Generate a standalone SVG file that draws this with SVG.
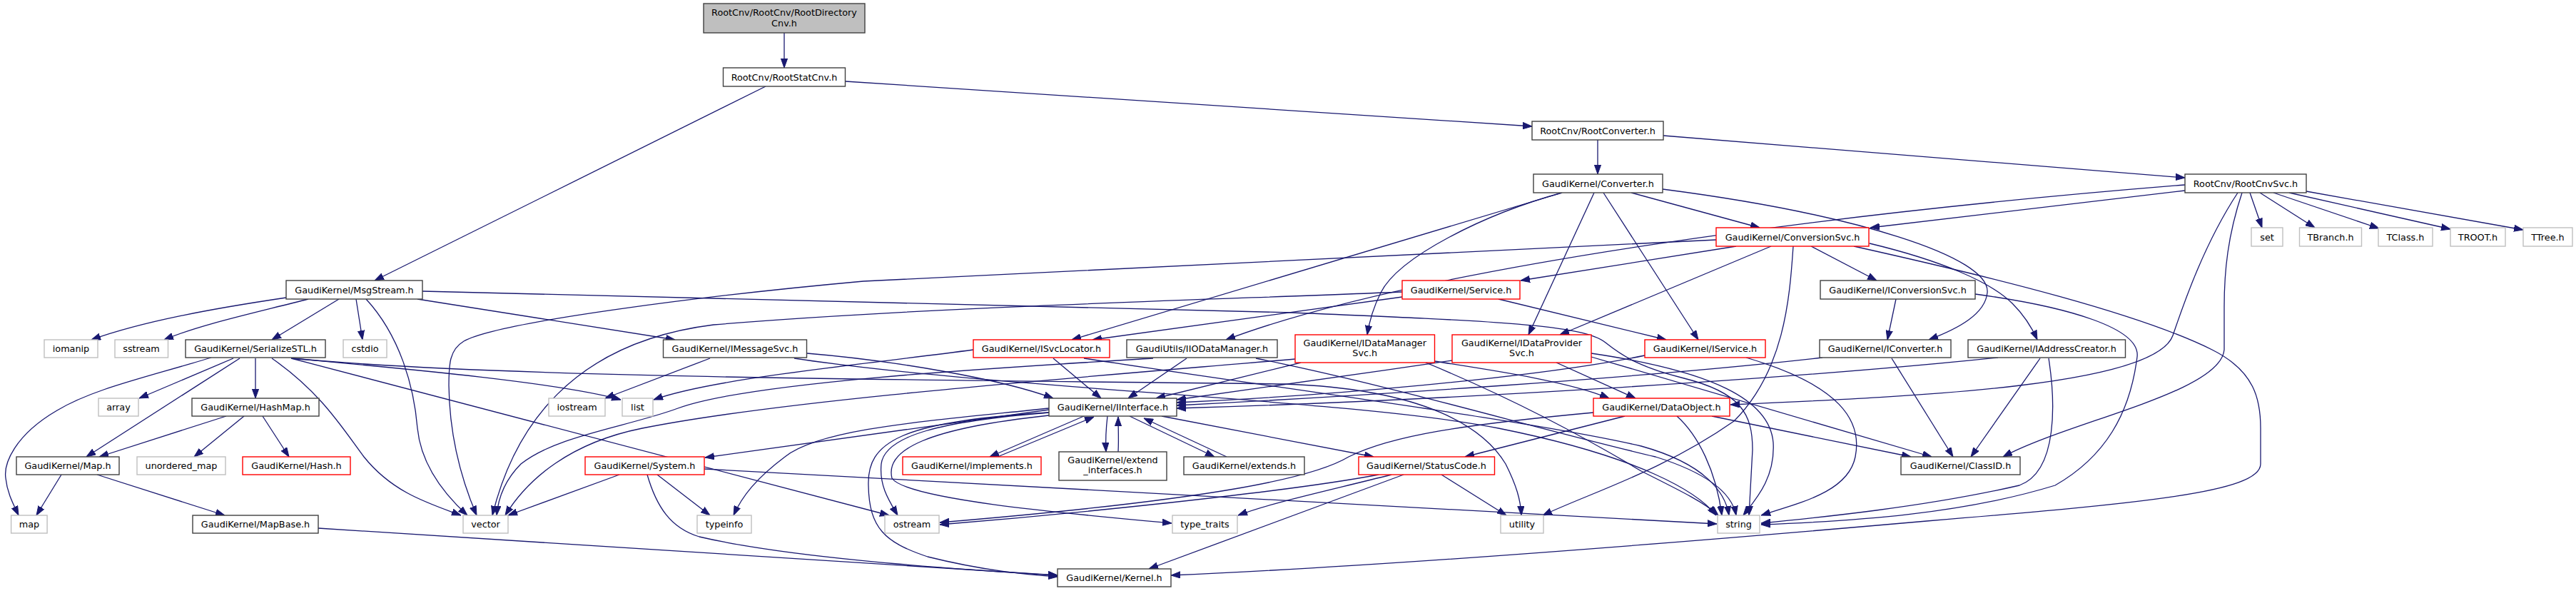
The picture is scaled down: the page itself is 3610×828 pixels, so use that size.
<svg xmlns="http://www.w3.org/2000/svg" width="3610" height="828" viewBox="0 0 3610 828">
<style>
.e{fill:none;stroke:#191970;stroke-width:1.3;marker-end:url(#a)}
.b rect{fill:#fff;stroke:#404040;stroke-width:1.4}
.r rect{fill:#fff;stroke:#ff0000;stroke-width:1.4}
.g rect{fill:#fff;stroke:#bfbfbf;stroke-width:1.4}
.root rect{fill:#bfbfbf;stroke:#404040;stroke-width:1.4}
text{font-family:"DejaVu Sans","Liberation Sans",sans-serif;font-size:12.8px;text-anchor:middle;fill:#000}
</style>
<defs>
<marker id="a" markerWidth="13" markerHeight="10" refX="13" refY="5" orient="auto" markerUnits="userSpaceOnUse"><path d="M0,0.4 L13,5 L0,9.6 z" fill="#191970" stroke="#191970" stroke-width="1"/></marker>
</defs>
<rect width="3610" height="828" fill="#fff"/>
<g id="edges">
<path class="e" d="M1099,46 L1099,95"/>
<path class="e" d="M1073,121 L525,393"/>
<path class="e" d="M1185,114 L2147,177"/>
<path class="e" d="M2239,196 L2239,244"/>
<path class="e" d="M2331,190 L3062,249"/>
<path class="e" d="M3153,270 L3170,319"/>
<path class="e" d="M3167,270 L3244,319"/>
<path class="e" d="M3186,270 L3334,320"/>
<path class="e" d="M3208,270 L3434,321"/>
<path class="e" d="M3232,268 L3536,322"/>
<path class="e" d="M3062,267 L2621,319"/>
<path class="e" d="M3062,259 C2600,296 2000,370 1718,476"/>
<path class="e" d="M3136,270 C3090,340 3062,420 3045,470 C3020,540 2700,555 2425,567"/>
<path class="e" d="M3142,270 C3122,330 3117,380 3117,430 L3117,490 C3112,550 2900,590 2807,640"/>
<path class="e" d="M2286,270 L2466,319"/>
<path class="e" d="M2330,265 C2600,300 2790,360 2785,410 C2782,440 2745,460 2703,476"/>
<path class="e" d="M2234,270 L2142,469"/>
<path class="e" d="M2247,270 L2380,476"/>
<path class="e" d="M2189,270 C2080,300 1960,360 1935,410 C1925,430 1919,450 1916,469"/>
<path class="e" d="M2189,270 L1502,476"/>
<path class="e" d="M2433,345 L2131,393"/>
<path class="e" d="M2482,345 L2186,469"/>
<path class="e" d="M2513,345 C2508,420 2500,520 2430,590 C2330,660 2230,690 2162,722"/>
<path class="e" d="M2538,345 L2630,393"/>
<path class="e" d="M2620,341 C2720,365 2790,395 2820,425 C2835,440 2848,460 2855,476"/>
<path class="e" d="M2598,345 C2800,390 3000,440 3100,490 C3160,520 3168,560 3168,600 L3168,650 C3168,690 3000,705 2700,730 C2300,765 1900,795 1641,806"/>
<path class="e" d="M2405,336 L1210,394 C1000,413 700,450 650,478 C630,490 629,510 629,540 C630,620 650,680 668,722"/>
<path class="e" d="M401,417 C300,432 200,450 128,476"/>
<path class="e" d="M432,419 C350,440 280,455 230,476"/>
<path class="e" d="M475,419 L381,476"/>
<path class="e" d="M499,419 L508,476"/>
<path class="e" d="M513,419 C560,470 580,540 585,600 C590,650 620,690 655,722"/>
<path class="e" d="M585,419 L946,476"/>
<path class="e" d="M592,408 L1810,438 C2100,450 2220,455 2250,480 C2275,500 2300,515 2360,530 C2440,550 2456,580 2456,630 L2451,722"/>
<path class="e" d="M296,501 C200,530 130,545 80,575 C20,610 5,650 8,670 C10,690 18,705 26,722"/>
<path class="e" d="M327,502 L195,558"/>
<path class="e" d="M336,502 L121,640"/>
<path class="e" d="M358,502 L358,558"/>
<path class="e" d="M381,502 C450,550 480,600 510,640 C550,690 600,705 646,722"/>
<path class="e" d="M408,502 C550,515 780,535 870,560"/>
<path class="e" d="M408,502 L1246,722"/>
<path class="e" d="M410,502 C700,530 1300,532 1800,538 C2000,545 2080,600 2110,650 C2125,680 2131,700 2132,722"/>
<path class="e" d="M317,583 L139,640"/>
<path class="e" d="M342,583 L272,640"/>
<path class="e" d="M368,583 L405,640"/>
<path class="e" d="M86,665 L51,722"/>
<path class="e" d="M136,665 L315,722"/>
<path class="e" d="M446,740 L1482,806"/>
<path class="e" d="M995,502 L848,558"/>
<path class="e" d="M1131,495 C1250,505 1400,530 1476,558"/>
<path class="e" d="M1113,502 C1400,545 1900,560 2100,600 C2300,640 2380,690 2405,722"/>
<path class="e" d="M1476,502 L1543,558"/>
<path class="e" d="M1364,490 C1200,512 1000,530 916,560"/>
<path class="e" d="M1519,502 C1800,545 2150,590 2300,625 C2390,650 2418,690 2423,722"/>
<path class="e" d="M1663,502 L1581,558"/>
<path class="e" d="M1616,502 C1400,515 1050,535 950,572 C880,598 780,610 730,650 C705,675 698,700 696,722"/>
<path class="e" d="M1760,502 C1950,540 2150,600 2320,640 C2400,665 2428,695 2433,722"/>
<path class="e" d="M1823,508 L1620,558"/>
<path class="e" d="M1815,503 C1500,530 1100,560 900,600 C800,620 740,670 708,722"/>
<path class="e" d="M2010,506 C2100,520 2200,535 2255,558"/>
<path class="e" d="M1998,508 C2100,550 2200,600 2300,660 C2360,690 2390,705 2408,722"/>
<path class="e" d="M2035,505 C1900,525 1750,545 1649,560"/>
<path class="e" d="M2181,508 L2292,558"/>
<path class="e" d="M2230,500 L2707,640"/>
<path class="e" d="M2230,495 C2400,520 2480,560 2485,620 C2488,670 2460,700 2443,722"/>
<path class="e" d="M2305,498 C2150,530 1850,555 1649,564"/>
<path class="e" d="M2447,501 C2580,540 2610,590 2600,640 C2590,690 2520,705 2468,722"/>
<path class="e" d="M2399,583 L2678,640"/>
<path class="e" d="M2277,583 L2053,640"/>
<path class="e" d="M2350,583 C2380,610 2405,660 2413,722"/>
<path class="e" d="M2233,578 C2050,595 1950,610 1890,640 C1840,670 1700,700 1317,732"/>
<path class="e" d="M1932,665 C1800,690 1500,720 1317,735"/>
<path class="e" d="M1950,665 C1850,690 1780,705 1735,722"/>
<path class="e" d="M1967,665 L1610,797"/>
<path class="e" d="M2020,665 L2111,722"/>
<path class="e" d="M868,665 L712,722"/>
<path class="e" d="M921,665 L995,722"/>
<path class="e" d="M987,657 L2406,734"/>
<path class="e" d="M907,665 C920,710 940,740 980,752 C1100,780 1300,795 1482,806"/>
<path class="e" d="M1470,574 L988,641"/>
<path class="e" d="M1470,572 C1300,590 1150,600 1100,640 C1060,670 1040,695 1028,722"/>
<path class="e" d="M1470,578 C1320,590 1240,610 1235,650 C1232,680 1245,700 1258,722"/>
<path class="e" d="M1470,578 C1260,590 1215,620 1217,680 C1218,740 1240,760 1300,780 C1380,800 1440,805 1482,808"/>
<path class="e" d="M1470,582 C1300,600 1240,630 1250,670 C1270,700 1500,720 1642,733"/>
<path class="e" d="M1628,583 L1925,640"/>
<path class="e" d="M1519,583 L1387,640"/>
<path class="e" d="M1398,640 L1533,584"/>
<path class="e" d="M1552,583 C1550,600 1549,615 1550,633"/>
<path class="e" d="M1567,633 C1568,615 1567,600 1567,584"/>
<path class="e" d="M1583,583 L1702,640"/>
<path class="e" d="M1719,640 L1603,586"/>
<path class="e" d="M2554,501 C2300,530 1900,555 1649,568"/>
<path class="e" d="M2651,502 L2737,640"/>
<path class="e" d="M2800,501 C2500,532 2000,562 1649,572"/>
<path class="e" d="M2859,502 L2762,640"/>
<path class="e" d="M2871,502 C2880,560 2885,660 2830,680 C2700,710 2550,725 2468,733"/>
<path class="e" d="M2768,412 C2900,430 3000,460 2995,500 C2985,580 2950,640 2880,680 C2750,720 2600,730 2468,735"/>
<path class="e" d="M2657,419 L2645,476"/>
<path class="e" d="M2100,419 L2335,476"/>
<path class="e" d="M1965,416 L1531,476"/>
<path class="e" d="M1965,409 C1700,420 1300,430 1000,455 C800,480 720,600 690,722"/>
</g>
<g id="n_root" class="root"><rect x="986" y="5" width="226" height="41"/><text x="1099" y="22">RootCnv/RootCnv/RootDirectory</text><text x="1099" y="37">Cnv.h</text></g>
<g id="n_statcnv" class="b"><rect x="1013.5" y="95" width="171" height="26"/><text x="1099" y="112.5">RootCnv/RootStatCnv.h</text></g>
<g id="n_rootconv" class="b"><rect x="2147" y="170" width="184" height="26"/><text x="2239" y="187.5">RootCnv/RootConverter.h</text></g>
<g id="n_conv" class="b"><rect x="2149" y="244" width="181" height="26"/><text x="2239.5" y="261.5">GaudiKernel/Converter.h</text></g>
<g id="n_cnvsvc" class="b"><rect x="3062" y="244" width="170" height="26"/><text x="3147" y="261.5">RootCnv/RootCnvSvc.h</text></g>
<g id="n_convsvc" class="r"><rect x="2405" y="319" width="214" height="26"/><text x="2512" y="336.5">GaudiKernel/ConversionSvc.h</text></g>
<g id="n_set" class="g"><rect x="3155" y="319" width="44" height="26"/><text x="3177" y="336.5">set</text></g>
<g id="n_tbranch" class="g"><rect x="3222.5" y="319" width="87" height="26"/><text x="3266" y="336.5">TBranch.h</text></g>
<g id="n_tclass" class="g"><rect x="3333" y="319" width="76" height="26"/><text x="3371" y="336.5">TClass.h</text></g>
<g id="n_troot" class="g"><rect x="3434" y="319" width="77" height="26"/><text x="3472.5" y="336.5">TROOT.h</text></g>
<g id="n_ttree" class="g"><rect x="3536" y="319" width="69" height="26"/><text x="3570.5" y="336.5">TTree.h</text></g>
<g id="n_msgstream" class="b"><rect x="401" y="393" width="191" height="26"/><text x="496.5" y="410.5">GaudiKernel/MsgStream.h</text></g>
<g id="n_service" class="r"><rect x="1965" y="393" width="165" height="26"/><text x="2047.5" y="410.5">GaudiKernel/Service.h</text></g>
<g id="n_iconvsvc" class="b"><rect x="2551" y="393" width="217" height="26"/><text x="2659.5" y="410.5">GaudiKernel/IConversionSvc.h</text></g>
<g id="n_iomanip" class="g"><rect x="62" y="476" width="75" height="25"/><text x="99.5" y="493">iomanip</text></g>
<g id="n_sstream" class="g"><rect x="161" y="476" width="74.5" height="25"/><text x="198" y="493">sstream</text></g>
<g id="n_serial" class="b"><rect x="260" y="476" width="196" height="25"/><text x="358" y="493">GaudiKernel/SerializeSTL.h</text></g>
<g id="n_cstdio" class="g"><rect x="481" y="476" width="61" height="25"/><text x="511.5" y="493">cstdio</text></g>
<g id="n_imsgsvc" class="b"><rect x="929.5" y="476" width="201" height="25"/><text x="1030" y="493">GaudiKernel/IMessageSvc.h</text></g>
<g id="n_isvcloc" class="r"><rect x="1364" y="476" width="191" height="25"/><text x="1459.5" y="493">GaudiKernel/ISvcLocator.h</text></g>
<g id="n_iiodm" class="b"><rect x="1579" y="476" width="211" height="25"/><text x="1684.5" y="493">GaudiUtils/IIODataManager.h</text></g>
<g id="n_idms" class="r"><rect x="1815" y="469" width="195.5" height="39"/><text x="1912.75" y="485">GaudiKernel/IDataManager</text><text x="1912.75" y="499">Svc.h</text></g>
<g id="n_idps" class="r"><rect x="2035" y="469" width="195" height="39"/><text x="2132.5" y="485">GaudiKernel/IDataProvider</text><text x="2132.5" y="499">Svc.h</text></g>
<g id="n_iservice" class="r"><rect x="2305" y="476" width="169" height="25"/><text x="2389.5" y="493">GaudiKernel/IService.h</text></g>
<g id="n_iconverter" class="b"><rect x="2550" y="476" width="184" height="25"/><text x="2642" y="493">GaudiKernel/IConverter.h</text></g>
<g id="n_iaddr" class="b"><rect x="2758" y="476" width="220.5" height="25"/><text x="2868" y="493">GaudiKernel/IAddressCreator.h</text></g>
<g id="n_array" class="g"><rect x="138" y="558" width="56" height="25"/><text x="166" y="575">array</text></g>
<g id="n_hashmap" class="b"><rect x="269" y="558" width="178" height="25"/><text x="358" y="575">GaudiKernel/HashMap.h</text></g>
<g id="n_iostream" class="g"><rect x="769" y="558" width="79" height="25"/><text x="808.5" y="575">iostream</text></g>
<g id="n_list" class="g"><rect x="872" y="558" width="43" height="25"/><text x="893.5" y="575">list</text></g>
<g id="n_iinterface" class="b"><rect x="1470" y="558" width="179" height="25"/><text x="1559.5" y="575">GaudiKernel/IInterface.h</text></g>
<g id="n_dataobject" class="r"><rect x="2233" y="558" width="191" height="25"/><text x="2328.5" y="575">GaudiKernel/DataObject.h</text></g>
<g id="n_maph" class="b"><rect x="23" y="640" width="144" height="25"/><text x="95" y="657">GaudiKernel/Map.h</text></g>
<g id="n_umap" class="g"><rect x="192" y="640" width="124" height="25"/><text x="254" y="657">unordered_map</text></g>
<g id="n_hash" class="r"><rect x="340" y="640" width="151" height="25"/><text x="415.5" y="657">GaudiKernel/Hash.h</text></g>
<g id="n_system" class="r"><rect x="820" y="640" width="167" height="25"/><text x="903.5" y="657">GaudiKernel/System.h</text></g>
<g id="n_implements" class="r"><rect x="1265" y="640" width="194" height="25"/><text x="1362" y="657">GaudiKernel/implements.h</text></g>
<g id="n_extint" class="b"><rect x="1484" y="633" width="151" height="40"/><text x="1559.5" y="649">GaudiKernel/extend</text><text x="1559.5" y="663">_interfaces.h</text></g>
<g id="n_extends" class="b"><rect x="1659" y="640" width="169" height="25"/><text x="1743.5" y="657">GaudiKernel/extends.h</text></g>
<g id="n_statuscode" class="r"><rect x="1904" y="640" width="190.5" height="25"/><text x="1999" y="657">GaudiKernel/StatusCode.h</text></g>
<g id="n_classid" class="b"><rect x="2664" y="640" width="167" height="25"/><text x="2747.5" y="657">GaudiKernel/ClassID.h</text></g>
<g id="n_map" class="g"><rect x="15.6" y="722" width="50.5" height="25"/><text x="41" y="739">map</text></g>
<g id="n_mapbase" class="b"><rect x="270" y="722" width="176" height="25"/><text x="358" y="739">GaudiKernel/MapBase.h</text></g>
<g id="n_vector" class="g"><rect x="649" y="722" width="63" height="25"/><text x="680.5" y="739">vector</text></g>
<g id="n_typeinfo" class="g"><rect x="977" y="722" width="76" height="25"/><text x="1015" y="739">typeinfo</text></g>
<g id="n_ostream" class="g"><rect x="1240" y="722" width="76" height="25"/><text x="1278" y="739">ostream</text></g>
<g id="n_typetraits" class="g"><rect x="1643" y="722" width="91" height="25"/><text x="1688.5" y="739">type_traits</text></g>
<g id="n_utility" class="g"><rect x="2103" y="722" width="60" height="25"/><text x="2133" y="739">utility</text></g>
<g id="n_string" class="g"><rect x="2407" y="722" width="59" height="25"/><text x="2436.5" y="739">string</text></g>
<g id="n_kernel" class="b"><rect x="1482" y="797" width="159" height="25"/><text x="1561.5" y="814">GaudiKernel/Kernel.h</text></g>
</svg>
